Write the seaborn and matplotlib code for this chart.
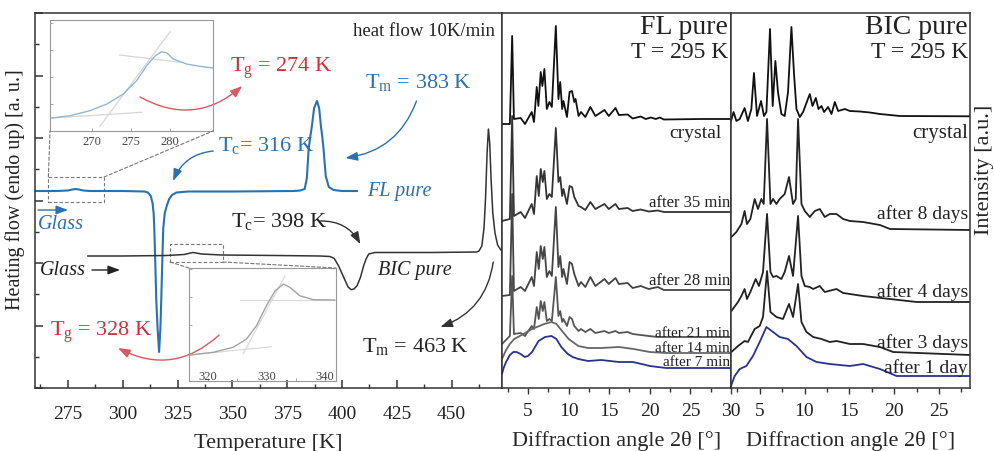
import matplotlib
matplotlib.use("Agg")
import matplotlib.pyplot as plt
from matplotlib.patches import ConnectionPatch, Rectangle
from matplotlib.ticker import MultipleLocator
import seaborn as sns

# ---------------- DSC traces: temperature [K], heat flow [a.u.] ----------------
fl_T = [260, 270, 275, 277, 278.5, 280, 282, 285, 300, 310, 311.5, 312.8, 313.6, 314.1,
        314.4, 314.8, 315.3, 315.9, 316.6, 317.2, 317.6, 318.1, 318.5, 319.2, 320.2,
        321.2, 322.5, 324.5, 330, 350, 378, 381, 383, 384, 384.8, 385.6, 386.3, 387.3,
        388.6, 389.6, 390.4, 391.0, 391.6, 392.6, 394, 396.2, 400, 407]
fl_hf = [197, 197, 197.5, 198.5, 199, 198.5, 197.5, 197, 197, 196.5, 195.5, 192, 185, 175,
         160, 130, 89, 60, 36, 60, 89, 130, 160, 175, 183,
         189, 193, 195.5, 196.5, 196.5, 197, 197.5, 199, 210, 239, 252, 262, 280,
         287, 280, 262, 252, 239, 212, 201, 198, 197, 197]

bic_T = [284, 300, 320, 328, 332, 336, 345, 370, 390, 394.5, 396.5, 398.5, 400.8, 402.8,
         404.2, 405.5, 406.9, 408.5, 409.9, 411, 412.2, 415, 440, 461.5, 462.5, 463.8,
         464.8, 465.5, 466.2, 466.8, 467.4, 468, 468.8, 469.8, 471, 472.5, 473]
bic_hf = [132, 132, 132.5, 133.5, 135.5, 134, 133, 132.5, 132, 131.5, 129.5, 122, 110.7, 101,
          98.3, 99, 102.3, 111, 122.3, 129, 134, 135.5, 135.5, 136, 137, 142,
          160, 190, 235, 259, 245, 210, 175, 155, 143, 138, 137.5]

# zoomed glass transitions (insets) with tangent construction
fl_tg_T = [264.8, 267.2, 269.7, 271.9, 274.0, 275.7, 277.0, 278.1, 278.9, 279.6, 280.4, 282.1, 283.8, 285.5]
fl_tg_hf = [13, 15.3, 20.3, 27, 37, 50.3, 65.3, 75.3, 79.3, 78, 72, 67, 64.7, 63]
fl_tan_T = [[264.8, 276.4], [271.0, 280.0], [273.5, 281.3]]
fl_tan_hf = [[13, 18.7], [4.7, 99.3], [76, 68.7]]

bic_tg_T = [316.9, 320.9, 324.3, 326.6, 328.3, 330.0, 331.5, 332.9, 334.0, 335.7, 338.0, 341.7]
bic_tg_hf = [26, 28.7, 33.7, 42, 55.3, 75.3, 90.3, 97, 93.7, 85.3, 81.3, 81]
bic_tan_T = [[316.9, 330.9], [326.0, 333.2], [325.5, 341.7]]
bic_tan_hf = [[26, 34.3], [27, 105.3], [81, 81]]

# ---------------- XRD patterns: 2theta [deg], intensity [a.u., stacked] ----------------
fl_crystal_2th = [1.8, 2.77, 3.05, 3.27, 4.10, 4.63, 5.46, 5.74, 6.08, 6.28, 6.57, 6.77, 7.02, 7.32,
                  7.64, 7.94, 8.43, 8.75, 8.97, 9.21, 9.37, 9.80, 10.12, 10.42, 10.70, 10.86, 11.23,
                  11.53, 12.06, 12.68, 13.30, 14.42, 14.95, 15.78, 16.19, 17.27, 17.89, 18.88,
                  19.50, 20.12, 20.74, 21.23, 21.73, 26.31, 30.0]
fl_crystal_I = [264, 264, 352, 269, 270, 264, 276, 266, 301, 282, 316, 302, 319, 279,
                286, 281, 362, 289, 306, 279, 287, 271, 296, 297, 286, 289, 272,
                276, 271, 281, 272, 278, 272, 280, 273, 273.5, 269.5, 271.5,
                269, 270.5, 269, 270.5, 268.5, 269, 269]

fl_sharp_2th = [1.8, 2.77, 3.05, 3.27, 4.10, 4.63, 5.46, 5.74, 6.08, 6.33, 6.57, 6.82, 7.02, 7.32,
                7.64, 7.94, 8.43, 8.75, 8.97, 9.21, 9.37, 9.80, 10.12, 10.42, 10.70, 11.23, 11.53,
                12.06, 12.68, 13.30, 14.42, 14.95, 15.78, 16.19, 17.27, 17.89, 18.88, 19.87,
                20.99, 21.73, 30.0]
fl_35_I = [167, 169, 272, 172, 176, 170, 184, 174, 212, 192, 219, 206, 217, 189,
           194, 191, 260, 206, 211, 192, 199, 184, 202, 201, 191, 182, 181,
           178, 186, 179, 184, 179, 184, 179, 180, 177, 178.5, 176.5, 177.5, 176, 176]
fl_28_I = [92, 93, 194, 97, 101, 97, 111, 102, 136, 119, 142, 129, 141, 111,
           117, 112, 181, 121, 132, 111, 119, 104, 126, 124, 114, 102, 106,
           101, 111, 102, 109, 104, 110, 104, 105, 100, 102, 99, 101, 98, 98]
fl_21_I = [44, 52, 112, 54, 55, 52, 62, 59, 81, 69, 87, 77, 86, 67,
           69, 67, 111, 72, 77, 66, 69, 62, 71, 69, 62, 57, 59,
           56, 59, 55, 57, 55, 57, 55, 56, 54, 53, 52, 51, 51, 51]

fl_14_2th = [1.8, 2.3, 2.77, 3.3, 4.0, 5.5, 7.0, 7.9, 8.5, 9.2, 10.0, 11.2, 12.4, 14.0, 16.2, 18.0, 20.0, 22.0, 30.0]
fl_14_I = [29, 38, 44, 49, 52, 59, 64, 66, 64, 57, 49, 42, 40, 40, 41, 39, 36, 35, 35]

fl_7_2th = [1.8, 2.0, 2.3, 2.77, 3.2, 3.6, 4.1, 4.6, 5.0, 5.5, 6.3, 7.1, 7.9, 8.5, 9.1, 9.9, 10.5,
            11.2, 12.4, 14.0, 16.2, 17.9, 19.0, 20.0, 22.0, 30.0]
fl_7_I = [14, 20, 26, 33, 36, 36, 34, 31, 32, 36, 47, 51, 52, 49, 41, 34, 31,
          29, 27, 28, 26, 26, 24, 22, 20, 20]

bic_crystal_2th = [1.8, 2.09, 2.40, 2.77, 3.32, 3.69, 4.07, 4.36, 4.70, 5.15, 5.48, 5.75, 6.15, 6.45,
                   6.75, 7.04, 7.42, 7.79, 8.16, 8.54, 8.83, 9.10, 9.47, 9.84, 10.59, 10.89, 11.26,
                   11.56, 11.89, 12.18, 12.63, 13.01, 13.38, 13.75, 14.50, 15.06, 16.17, 17.29,
                   18.41, 19.53, 20.64, 28.46]
bic_crystal_I = [267, 276, 267, 269, 280, 267, 279, 315, 272, 287, 272, 276, 359, 282,
                 327, 296, 274, 272, 296, 361, 314, 279, 271, 276, 294, 282, 290,
                 279, 282, 276, 281, 274, 286, 277, 279, 277, 276.5, 275.5,
                 274, 273, 272, 271.7]

bic_8d_2th = [1.84, 2.40, 2.96, 3.32, 3.58, 3.96, 4.44, 4.81, 5.19, 5.45, 5.82, 6.20, 6.49, 6.87,
              7.23, 7.79, 8.27, 8.72, 9.02, 9.28, 9.66, 10.03, 10.59, 11.15, 11.70, 12.26, 12.82,
              13.57, 14.31, 15.06, 16.54, 18.41, 19.53, 28.46]
bic_8d_I = [151, 156, 164, 177, 164, 169, 189, 179, 189, 184, 269, 184, 189, 184,
            189, 194, 211, 184, 189, 269, 184, 177, 171, 177, 179, 171, 174,
            174, 169, 167, 166, 163, 159, 158]

bic_4d_2th = [1.84, 2.58, 2.96, 3.32, 3.58, 3.96, 4.55, 4.92, 5.37, 5.82, 6.20, 6.49, 6.87, 7.42,
              7.79, 8.27, 8.72, 9.28, 9.66, 10.03, 10.59, 10.96, 11.70, 12.26, 13.57, 14.31, 15.06,
              16.54, 19.53, 22.51, 28.46]
bic_4d_I = [77, 86, 92, 99, 89, 96, 109, 102, 116, 174, 116, 111, 112, 109,
            116, 132, 112, 172, 112, 102, 101, 99, 102, 96, 99, 95, 94,
            92, 89, 86, 86]

bic_3d_2th = [1.84, 2.58, 3.32, 3.69, 4.44, 5.0, 5.37, 5.82, 6.20, 6.87, 7.60, 8.27, 8.72, 9.28,
              9.66, 10.22, 10.96, 11.89, 12.82, 13.57, 15.06, 16.54, 18.41, 19.89, 28.46]
bic_3d_I = [36, 42, 47, 46, 59, 62, 71, 117, 76, 71, 69, 84, 71, 104,
            66, 56, 51, 49, 46, 47, 44, 44, 41, 36, 33]

bic_1d_2th = [1.8, 2.21, 2.77, 3.51, 4.25, 5.0, 5.75, 6.49, 7.23, 8.16, 9.10, 10.22, 11.34, 12.82,
              15.06, 16.54, 18.41, 20.27, 28.46]
bic_1d_I = [2, 12, 19, 22, 32, 46, 61, 56, 51, 49, 42, 31, 26, 24, 22, 24, 19, 12, 12]

# ---------------- style ----------------
sns.set_theme(style="ticks")
plt.rcParams["font.family"] = ["Liberation Serif", "DejaVu Serif"]
plt.rcParams["mathtext.fontset"] = "custom"
plt.rcParams["mathtext.rm"] = "Liberation Serif"
plt.rcParams["mathtext.it"] = "Liberation Serif:italic"
plt.rcParams["axes.edgecolor"] = "#333333"
plt.rcParams["axes.linewidth"] = 1.1
plt.rcParams["xtick.color"] = "#333333"
plt.rcParams["ytick.color"] = "#333333"
plt.rcParams["xtick.labelcolor"] = "#222222"

BLUE = "#2a71ad"
RED = "#c8323c"
NAVY = "#28338f"


def curve(ax, x, y, color, lw=1.3):
    sns.lineplot(x=x, y=y, ax=ax, color=color, linewidth=lw, sort=False, estimator=None)


fig = plt.figure(figsize=(9.95, 4.52), dpi=100)
W, H = 995.0, 452.0
ax = fig.add_axes([35 / W, 1 - 389 / H, 467 / W, 375 / H])
ax_fl = fig.add_axes([502 / W, 1 - 389 / H, 229 / W, 375 / H])
ax_bic = fig.add_axes([731 / W, 1 - 389 / H, 239 / W, 375 / H])

# ---------------- DSC panel ----------------
curve(ax, fl_T, fl_hf, BLUE, 1.5)
curve(ax, bic_T, bic_hf, "#333333", 1.1)
ax.set_xlim(260, 473)
ax.set_ylim(0, 375)
ax.xaxis.set_major_locator(MultipleLocator(25))
ax.xaxis.set_minor_locator(MultipleLocator(12.5))
ax.yaxis.set_major_locator(MultipleLocator(62.5))
ax.yaxis.set_minor_locator(MultipleLocator(31.25))
ax.tick_params(axis="both", which="both", direction="in")
ax.tick_params(axis="x", which="major", length=6, width=1.1, labelsize=14, pad=12)
ax.tick_params(axis="x", which="minor", length=3, width=1.0)
ax.tick_params(axis="y", which="major", length=6, width=1.1, labelleft=False)
ax.tick_params(axis="y", which="minor", length=3, width=1.0)
ax.set_xlabel("Temperature [K]", fontsize=16, labelpad=8)
ax.set_ylabel("")

ax.text(470, 357, "heat flow 10K/min", fontsize=13.5, ha="right", va="center", color="#222222")
ax.text(349, 321, r"T$_\mathrm{g}$ = 274 K", fontsize=16, color=RED, va="center")
ax.text(410.7, 306, r"T$_\mathrm{m}$ = 383 K", fontsize=16, color=BLUE, va="center")
ax.text(343.6, 243, r"T$_\mathrm{c}$= 316 K", fontsize=16, color=BLUE, va="center")
ax.text(411.6, 197, "FL pure", fontsize=14.5, color=BLUE, style="italic", va="center")
ax.text(261.4, 164, "Glass", fontsize=14.5, color=BLUE, style="italic", va="center")
ax.text(349.5, 167, r"T$_\mathrm{c}$= 398 K", fontsize=16, color="#222222", va="center")
ax.text(262.3, 118, "Glass", fontsize=14.5, color="#222222", style="italic", va="center")
ax.text(416.6, 118, "BIC pure", fontsize=14.5, color="#222222", style="italic", va="center")
ax.text(266.8, 57, r"T$_\mathrm{g}$ = 328 K", fontsize=16, color=RED, va="center")
ax.text(409.3, 42, r"T$_\mathrm{m}$ = 463 K", fontsize=16, color="#222222", va="center")


def arrow(start, end, color, rad, lw=1.0):
    ax.annotate("", xy=end, xytext=start,
                arrowprops=dict(arrowstyle="-|>,head_length=0.6,head_width=0.22",
                                connectionstyle=f"arc3,rad={rad}", color=color, lw=lw,
                                shrinkA=0, shrinkB=0))


arrow((434.0, 287), (401.6, 230), BLUE, -0.3)
arrow((341.3, 237), (323.0, 207), BLUE, 0.3)
arrow((390.1, 167), (408.4, 144), "#333333", -0.3)
arrow((469.0, 126), (444.9, 61), "#333333", -0.3)
arrow((307.9, 291), (354.5, 302), "#d65a5f", 0.35)
arrow((344.0, 53), (297.9, 40), "#d65a5f", -0.35)
arrow((261.4, 178), (275.1, 178), BLUE, 0)
arrow((286.0, 118), (298.8, 118), "#222222", 0)

# zoom boxes
box_style = dict(fill=False, ls=(0, (3, 2)), lw=0.8, ec="#777777")
ax.add_patch(Rectangle((266.1, 186), 25.4, 25, **box_style))
ax.add_patch(Rectangle((321.6, 126), 24.1, 18, **box_style))

# ---------------- insets ----------------
ins1 = fig.add_axes([50 / W, 1 - 132 / H, 163 / W, 111 / H])
ins2 = fig.add_axes([189 / W, 1 - 382 / H, 147 / W, 113 / H])
for ins in (ins1, ins2):
    ins.patch.set_alpha(0)
    for sp in ins.spines.values():
        sp.set_color("#999999")
        sp.set_linewidth(0.8)
    ins.tick_params(axis="both", which="both", direction="in", colors="#999999",
                    labelcolor="#444444", labelsize=9, length=2.5, width=0.6, pad=3)
    ins.tick_params(axis="y", labelleft=False)

for tx, ty in zip(fl_tan_T, fl_tan_hf):
    curve(ins1, tx, ty, "#d6d6d6", 0.9)
curve(ins1, fl_tg_T, fl_tg_hf, "#93b6d3", 1.0)
ins1.set_xlim(264.6, 285.5)
ins1.set_ylim(0, 111)
ins1.set_xticks([270, 275, 280])
ins1.yaxis.set_major_locator(MultipleLocator(27))

for tx, ty in zip(bic_tan_T, bic_tan_hf):
    curve(ins2, tx, ty, "#dadada", 0.9)
curve(ins2, bic_tg_T, bic_tg_hf, "#a3a3a3", 1.0)
ins2.set_xlim(316.75, 341.9)
ins2.set_ylim(0, 113)
ins2.set_xticks([320, 330, 340])
ins2.xaxis.set_minor_locator(MultipleLocator(5))
ins2.yaxis.set_major_locator(MultipleLocator(28))
ins2.tick_params(axis="x", which="major", pad=-8)

con_style = dict(ls=(0, (3, 2)), lw=0.8, color="#777777")
for xyA, xyB, insx in [((266.1, 211), (0, 0), ins1), ((291.5, 211), (1, 0), ins1),
                       ((321.6, 126), (0, 1), ins2), ((345.7, 126), (1, 1), ins2)]:
    fig.add_artist(ConnectionPatch(xyA=xyA, coordsA=ax.transData, xyB=xyB,
                                   coordsB=insx.transAxes, **con_style))

# ---------------- XRD panels ----------------
curve(ax_fl, fl_crystal_2th, fl_crystal_I, "#111111", 1.3)
curve(ax_fl, fl_sharp_2th, fl_35_I, "#333333", 1.3)
curve(ax_fl, fl_sharp_2th, fl_28_I, "#444444", 1.3)
curve(ax_fl, fl_sharp_2th, fl_21_I, "#555555", 1.3)
curve(ax_fl, fl_14_2th, fl_14_I, "#666666", 1.3)
curve(ax_fl, fl_7_2th, fl_7_I, NAVY, 1.3)
ax_fl.set_xlim(1.8, 30)

curve(ax_bic, bic_crystal_2th, bic_crystal_I, "#111111", 1.3)
curve(ax_bic, bic_8d_2th, bic_8d_I, "#222222", 1.3)
curve(ax_bic, bic_4d_2th, bic_4d_I, "#222222", 1.3)
curve(ax_bic, bic_3d_2th, bic_3d_I, "#222222", 1.3)
curve(ax_bic, bic_1d_2th, bic_1d_I, NAVY, 1.3)
ax_bic.set_xlim(1.8, 28.46)

for a in (ax_fl, ax_bic):
    a.set_ylim(0, 375)
    a.set_yticks([])
    a.set_ylabel("")
    a.xaxis.set_major_locator(MultipleLocator(5))
    a.xaxis.set_minor_locator(MultipleLocator(2.5))
    a.tick_params(axis="x", which="both", direction="out")
    a.tick_params(axis="x", which="major", length=4, width=1.0, labelsize=14, pad=6)
    a.tick_params(axis="x", which="minor", length=3, width=1.0)
    a.set_xlabel("Diffraction angle 2θ [°]", fontsize=16, labelpad=8)

ax_fl.set_xticks([5, 10, 15, 20, 25, 30])
ax_bic.set_xticks([5, 10, 15, 20, 25])

lab = dict(ha="right", va="center", color="#222222")
ax_fl.text(29.66, 361, "FL pure", fontsize=20, **lab)
ax_fl.text(29.66, 336, "T = 295 K", fontsize=17, **lab)
ax_fl.text(28.8, 255, "crystal", fontsize=14, **lab)
ax_fl.text(29.9, 186, "after 35 min", fontsize=12, **lab)
ax_fl.text(29.9, 108, "after 28 min", fontsize=12, **lab)
ax_fl.text(29.9, 55, "after 21 min", fontsize=11, **lab)
ax_fl.text(29.9, 40, "after 14 min", fontsize=11, **lab)
ax_fl.text(29.9, 26, "after 7 min", fontsize=11, **lab)

ax_bic.text(28.24, 361, "BIC pure", fontsize=20, **lab)
ax_bic.text(28.24, 336, "T = 295 K", fontsize=17, **lab)
ax_bic.text(28.24, 255, "crystal", fontsize=15, **lab)
ax_bic.text(28.24, 175, "after 8 days", fontsize=14, **lab)
ax_bic.text(28.24, 97, "after 4 days", fontsize=14, **lab)
ax_bic.text(28.24, 46, "after 3 days", fontsize=14, **lab)
ax_bic.text(28.24, 21, "after 1 day", fontsize=14, **lab)

fig.text(15 / W, 1 - 190 / H, "Heating flow (endo up) [a. u.]", rotation=90,
         ha="center", va="center", fontsize=14.5, color="#222222")
fig.text(985 / W, 1 - 170 / H, "Intensity [a.u.]", rotation=90,
         ha="center", va="center", fontsize=16, color="#222222")

fig.savefig("out.png", dpi=100)
